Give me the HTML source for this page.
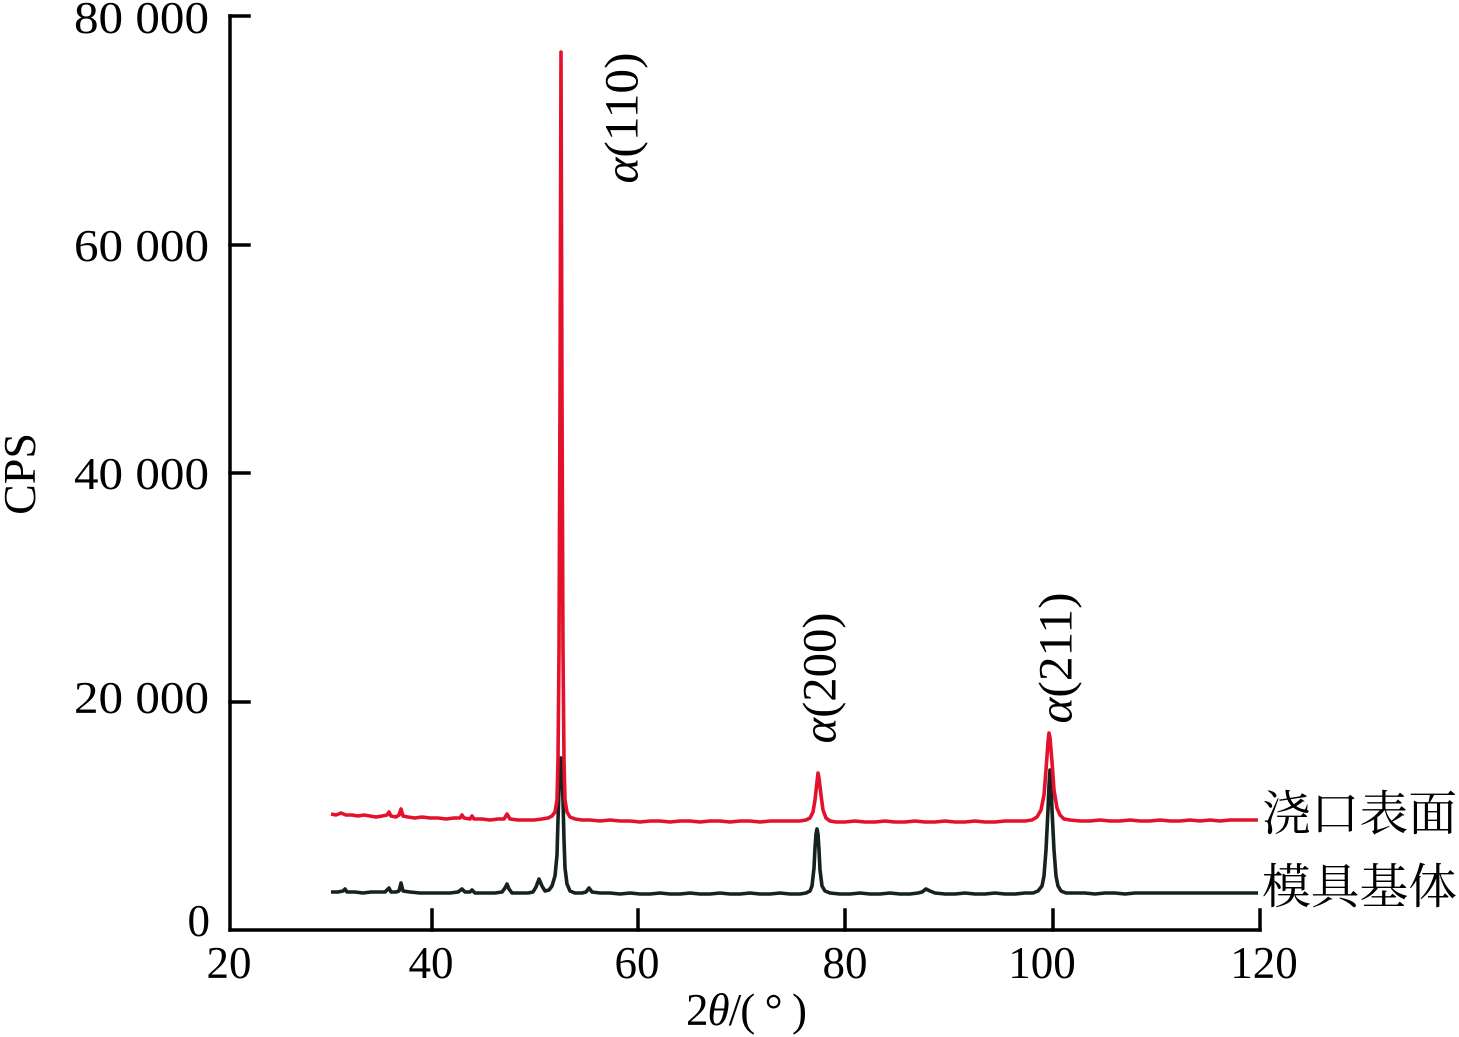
<!DOCTYPE html>
<html>
<head>
<meta charset="utf-8">
<style>
  html, body { margin: 0; padding: 0; background: #ffffff; }
  svg { display: block; }
  .t { font-family: "Liberation Serif", "Noto Serif CJK SC", serif; fill: #000; }
</style>
</head>
<body>
<svg width="1459" height="1037" viewBox="0 0 1459 1037" xmlns="http://www.w3.org/2000/svg">
  <rect x="0" y="0" width="1459" height="1037" fill="#ffffff"/>

  <!-- Axes -->
  <g stroke="#000" stroke-width="3.5" fill="none" stroke-linecap="square">
    <line x1="230" y1="16" x2="230" y2="930"/>
    <line x1="230" y1="930" x2="1260" y2="930"/>
    <line x1="230" y1="16" x2="249" y2="16"/>
    <line x1="230" y1="245" x2="249" y2="245"/>
    <line x1="230" y1="473" x2="249" y2="473"/>
    <line x1="230" y1="702" x2="249" y2="702"/>
    <line x1="432" y1="930" x2="432" y2="910"/>
    <line x1="638" y1="930" x2="638" y2="910"/>
    <line x1="845" y1="930" x2="845" y2="910"/>
    <line x1="1053" y1="930" x2="1053" y2="910"/>
    <line x1="1260" y1="930" x2="1260" y2="910"/>
  </g>

  <!-- Y tick labels -->
  <g class="t" font-size="45" text-anchor="end">
    <text x="209" y="33" textLength="135" lengthAdjust="spacingAndGlyphs">80 000</text>
    <text x="209" y="261" textLength="135" lengthAdjust="spacingAndGlyphs">60 000</text>
    <text x="209" y="489" textLength="135" lengthAdjust="spacingAndGlyphs">40 000</text>
    <text x="209" y="713" textLength="135" lengthAdjust="spacingAndGlyphs">20 000</text>
    <text x="210" y="936">0</text>
  </g>

  <!-- X tick labels -->
  <g class="t" font-size="45" text-anchor="middle">
    <text x="229" y="978">20</text>
    <text x="431" y="978">40</text>
    <text x="637" y="978">60</text>
    <text x="845" y="978">80</text>
    <text x="1042" y="978">100</text>
    <text x="1264" y="978">120</text>
  </g>

  <!-- Axis titles -->
  <text class="t" font-size="45" x="686" y="1025" textLength="121" lengthAdjust="spacing">2<tspan font-style="italic">θ</tspan>/( ° )</text>
  <text class="t" font-size="46" transform="translate(35,474) rotate(-90)" text-anchor="middle">CPS</text>

  <!-- Black series: 模具基体 -->
  <path fill="none" stroke="#15221d" stroke-width="3.6" stroke-linejoin="round" d="
    M331,892 L338,892 L343,891 L345,889 L347,892 L355,892 L363,893 L371,892 L379,892 L385,892
    L389,888 L391,892 L396,892 L399,891 L401,883 L403,891 L410,892 L420,893 L430,893 L440,893
    L450,893 L458,892 L462,889 L465,892 L470,892 L472,890 L475,893 L485,893 L495,893 L502,892
    L505,888 L507,884 L509,889 L512,893 L520,893 L528,893 L533,892 L536,887 L539,879 L542,886
    L545,891 L549,890 L552,886 L555,876 L557,855 L558,820 L559,790 L560,765 L561,758 L562,768
    L563,800 L564,840 L565,868 L567,884 L570,891 L575,893 L582,893 L586,892 L589,888 L592,892
    L600,893 L610,893 L620,894 L630,893 L640,894 L650,894 L660,893 L670,894 L680,894 L690,893
    L700,894 L710,894 L720,893 L730,894 L740,894 L750,893 L760,894 L770,894 L780,893 L790,894
    L800,894 L806,893 L810,891 L812,886 L814,868 L815,848 L816,834 L817,829 L818,834 L819,850
    L820,870 L822,886 L825,891 L830,893 L840,894 L850,894 L860,893 L870,894 L880,894 L890,893
    L900,894 L910,894 L918,893 L922,892 L926,889 L930,891 L935,893 L945,894 L955,894 L965,893
    L975,894 L985,894 L995,893 L1005,894 L1015,894 L1025,893 L1033,893 L1038,891 L1042,886
    L1044,876 L1046,850 L1048,810 L1049,785 L1050,770 L1051,782 L1052,810 L1054,850 L1056,876
    L1058,886 L1061,891 L1066,893 L1075,893 L1085,893 L1095,894 L1105,893 L1115,893 L1125,894
    L1135,893 L1145,893 L1155,893 L1165,893 L1175,893 L1185,893 L1195,893 L1205,893 L1215,893
    L1225,893 L1235,893 L1245,893 L1258,893"/>

  <!-- Red series: 浇口表面 -->
  <path fill="none" stroke="#e3112b" stroke-width="3.6" stroke-linejoin="round" d="
    M331,814 L336,815 L341,813 L346,815 L352,815 L358,816 L364,815 L370,816 L376,817 L382,816
    L387,815 L389,812 L391,816 L396,817 L399,815 L401,809 L403,816 L408,817 L415,818 L422,817
    L430,818 L438,818 L446,819 L454,818 L460,818 L462,815 L464,818 L470,819 L472,816 L474,819
    L482,819 L490,820 L498,819 L504,819 L507,814 L510,819 L518,820 L526,820 L534,820 L542,819
    L548,818 L552,816 L555,812 L557,800 L558,760 L559,650 L560,400 L561,52 L562,400 L563,650
    L564,760 L565,800 L567,812 L570,817 L575,819 L582,820 L590,820 L600,821 L610,820 L620,821
    L630,821 L640,822 L650,821 L660,821 L670,822 L680,821 L690,821 L700,822 L710,821 L720,821
    L730,822 L740,821 L750,821 L760,822 L770,821 L780,821 L790,821 L800,821 L806,820 L810,818
    L813,812 L815,800 L817,782 L818,773 L819,778 L821,795 L823,810 L826,818 L830,821 L836,822
    L845,822 L855,821 L865,822 L875,822 L885,821 L895,822 L905,822 L915,821 L925,822 L935,822
    L945,821 L955,822 L965,822 L975,821 L985,822 L995,822 L1005,821 L1015,821 L1025,821 L1032,820
    L1037,817 L1041,810 L1044,795 L1046,770 L1048,742 L1049,733 L1050,738 L1052,762 L1054,790
    L1057,808 L1060,815 L1064,819 L1070,820 L1080,821 L1090,821 L1100,820 L1110,821 L1120,821
    L1130,820 L1140,821 L1150,821 L1160,820 L1170,821 L1180,821 L1190,820 L1200,821 L1210,820
    L1220,821 L1230,820 L1240,820 L1250,820 L1258,820"/>

  <!-- Peak labels -->
  <g class="t" font-size="48" text-anchor="middle">
    <text transform="translate(623,118) rotate(-90)" dy="0.3em" textLength="131" lengthAdjust="spacingAndGlyphs"><tspan font-style="italic">α</tspan>(110)</text>
    <text transform="translate(821,678) rotate(-90)" dy="0.3em" textLength="131" lengthAdjust="spacingAndGlyphs"><tspan font-style="italic">α</tspan>(200)</text>
    <text transform="translate(1057,658) rotate(-90)" dy="0.3em" textLength="131" lengthAdjust="spacingAndGlyphs"><tspan font-style="italic">α</tspan>(211)</text>
  </g>

  <!-- Series labels -->
  <g font-family="'Liberation Serif', 'Noto Serif CJK SC', serif" font-size="48" fill="#000">
    <text x="1262" y="830" textLength="195" lengthAdjust="spacingAndGlyphs">浇口表面</text>
    <text x="1262" y="903" textLength="195" lengthAdjust="spacingAndGlyphs">模具基体</text>
  </g>
</svg>
</body>
</html>
